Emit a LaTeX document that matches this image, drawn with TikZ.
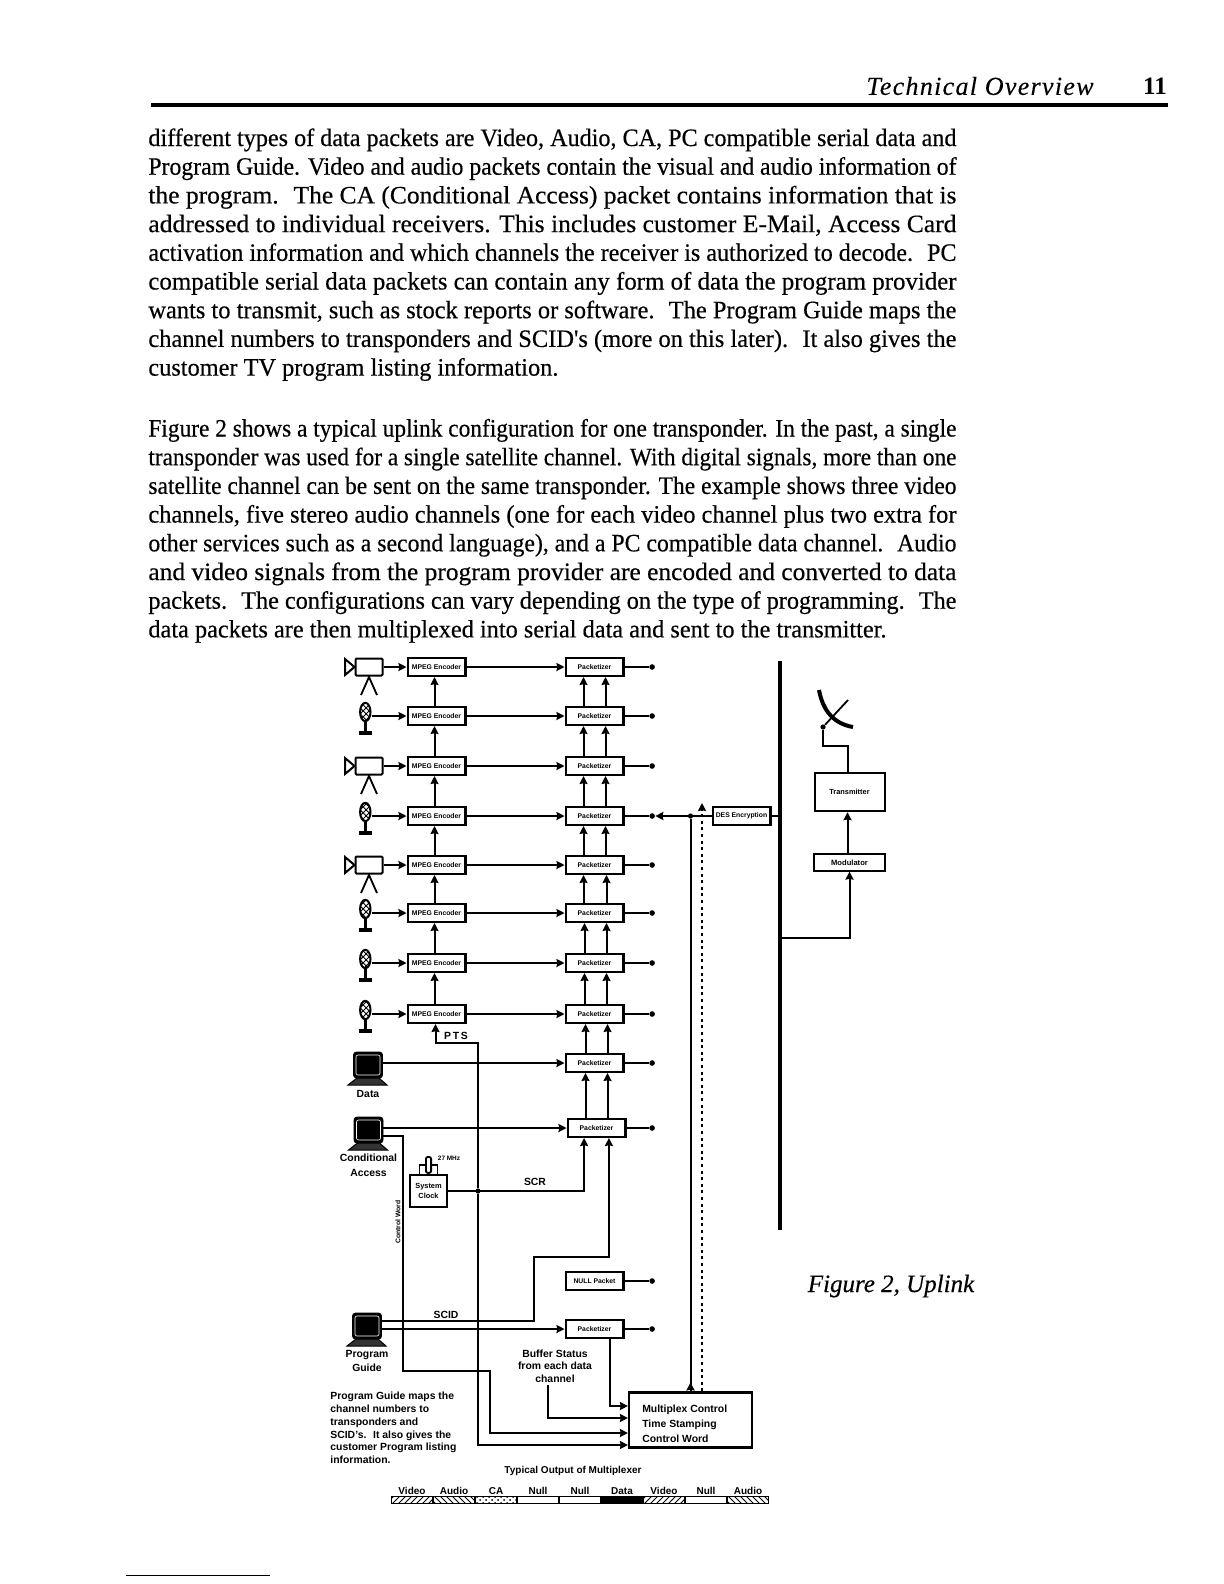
\documentclass[tikz,border=0pt]{standalone}
\usepackage{graphicx}
\usepackage{fontspec}
\setmainfont{Liberation Serif}
\setsansfont{Liberation Sans}
\newfontfamily\pagefont[FakeBold=0.4]{Liberation Serif}
\newfontfamily\headfont[FakeBold=0.2,LetterSpace=5]{Liberation Serif Italic}
\usepackage{tikz}
\usetikzlibrary{shapes.geometric, arrows.meta, positioning, calc, patterns}

\newcommand{\tinytxt}{\fontsize{3.4}{4}\selectfont\sffamily\bfseries}
\newcommand{\smalltxt}{\fontsize{5.2}{6.35}\selectfont\sffamily\bfseries}
\newcommand{\fitline}[2][404pt]{\resizebox{#1}{\height}{#2}}

\tikzset{
    camlegs/.pic={
        \draw[line width=1pt, fill=white] (-14.5,0) -- (-24,-8) -- (-24,8) -- cycle;
        \draw[line width=.9pt] (-8,28) -- (0,10) -- (8,28);
    },
    micstand/.pic={
        \draw[line width=1.2pt] (0,9) -- (0,21);
        \draw[line width=1.8pt] (-6.5,21) -- (6.5,21);
    },
    pcbase/.pic={
        \draw[white, line width=.3pt, rounded corners=1pt] (-12,-10) rectangle (12,10);
        \draw[fill=black!80, line width=.5pt] (-11,13) -- (11,13) -- (19,20) -- (-20,20) -- cycle;
    }
}

\begin{document}
\begin{tikzpicture}[x=.5pt, y=-.5pt,
    encbox/.style={draw, rectangle, line width=1.1pt, minimum width=28.9pt, minimum height=8.9pt, inner sep=0pt, text centered, font=\tinytxt, fill=white},
    pktbox/.style={encbox},
    cambody/.style={draw, rectangle, rounded corners=.5pt, line width=1pt, minimum width=13.5pt, minimum height=8.5pt},
    micbody/.style={draw, ellipse, line width=1pt, minimum width=5.2pt, minimum height=9.2pt, inner sep=0pt, pattern=crosshatch},
    pcbody/.style={draw, rectangle, rounded corners=1.5pt, fill=black, minimum width=14.5pt, minimum height=13pt, inner sep=0pt},
    dotend/.style={circle, fill=black, inner sep=0pt, minimum size=2.8pt},
    juncdot/.style={circle, fill=black, inner sep=0pt, minimum size=2.6pt},
    arrow/.style={line width=1pt,-{Stealth[length=4pt,width=4pt,inset=.4pt]}},
    wire/.style={line width=1pt},
    lbl/.style={inner sep=0pt, font=\smalltxt, align=center},
    seg/.style={draw, rectangle, line width=.6pt, minimum width=20.4pt, minimum height=3.2pt, inner sep=0pt},
    seglabel/.style={font=\fontsize{5}{5}\selectfont\sffamily\bfseries, inner sep=0pt, label distance=.4pt},
    bodytext/.style={anchor=north west, inner sep=0pt, align=left, font=\fontsize{12.5}{14.35}\selectfont\pagefont}
]
\useasboundingbox (0,0) rectangle (1224,1584);

% Page header
\node (headtitle) [font=\fontsize{13}{13}\selectfont\headfont, inner sep=0pt] at (980,86) {Technical Overview};
\node (pagenum) [font=\fontsize{12.5}{13}\selectfont\bfseries, inner sep=0pt] at (1155,86) {11};
\coordinate (ruleleft) at (151,105);
\coordinate (ruleright) at (1168,105);
\draw [line width=2pt] (ruleleft) -- (ruleright);

% Page text
\node (paraone) [bodytext] at (148,128) {%
\fitline{different types of data packets are Video, Audio, CA, PC compatible serial data and}\\
\fitline{Program Guide. Video and audio packets contain the visual and audio information of}\\
\fitline{the program. \ The CA (Conditional Access) packet contains information that is}\\
\fitline{addressed to individual receivers. This includes customer E-Mail, Access Card}\\
\fitline{activation information and which channels the receiver is authorized to decode. \ PC}\\
\fitline{compatible serial data packets can contain any form of data the program provider}\\
\fitline{wants to transmit, such as stock reports or software. \ The Program Guide maps the}\\
\fitline{channel numbers to transponders and SCID's (more on this later). \ It also gives the}\\
\fitline[205pt]{customer TV program listing information.}};
\node (paratwo) [bodytext] at (148,418.5) {%
\fitline{Figure 2 shows a typical uplink configuration for one transponder. In the past, a single}\\
\fitline{transponder was used for a single satellite channel. With digital signals, more than one}\\
\fitline{satellite channel can be sent on the same transponder. The example shows three video}\\
\fitline{channels, five stereo audio channels (one for each video channel plus two extra for}\\
\fitline{other services such as a second language), and a PC compatible data channel. \ Audio}\\
\fitline{and video signals from the program provider are encoded and converted to data}\\
\fitline{packets. \ The configurations can vary depending on the type of programming. \ The}\\
\fitline[369pt]{data packets are then multiplexed into serial data and sent to the transmitter.}};

% Encoders
\node (enca) [encbox] at (436.5,667) {MPEG Encoder};
\node (encb) [encbox, below=14.5pt of enca] {MPEG Encoder};
\node (encc) [encbox, below=15pt of encb] {MPEG Encoder};
\node (encd) [encbox, below=15pt of encc] {MPEG Encoder};
\node (ence) [encbox, below=14.5pt of encd] {MPEG Encoder};
\node (encf) [encbox, below=14pt of ence] {MPEG Encoder};
\node (encg) [encbox, below=15pt of encf] {MPEG Encoder};
\node (ench) [encbox, below=15.5pt of encg] {MPEG Encoder};

\draw [arrow] ([xshift=-1pt]encb.north) -- ([xshift=-1pt]enca.south);
\draw [arrow] ([xshift=-1pt]encc.north) -- ([xshift=-1pt]encb.south);
\draw [arrow] ([xshift=-1pt]encd.north) -- ([xshift=-1pt]encc.south);
\draw [arrow] ([xshift=-1pt]ence.north) -- ([xshift=-1pt]encd.south);
\draw [arrow] ([xshift=-1pt]encf.north) -- ([xshift=-1pt]ence.south);
\draw [arrow] ([xshift=-1pt]encg.north) -- ([xshift=-1pt]encf.south);
\draw [arrow] ([xshift=-1pt]ench.north) -- ([xshift=-1pt]encg.south);

% Cameras and microphones
\node (cama) [cambody, left=11.5pt of enca] {};
\node (micb) [micbody, left=17.5pt of encb, yshift=2pt] {};
\node (camc) [cambody, left=11.5pt of encc] {};
\node (micd) [micbody, left=17.5pt of encd, yshift=2pt] {};
\node (came) [cambody, left=11.5pt of ence] {};
\node (micf) [micbody, left=17.5pt of encf, yshift=2pt] {};
\node (micg) [micbody, left=17.5pt of encg, yshift=2pt] {};
\node (mich) [micbody, left=17.5pt of ench, yshift=2pt] {};
\pic at (cama) {camlegs};
\pic at (camc) {camlegs};
\pic at (came) {camlegs};
\pic at (micb) {micstand};
\pic at (micd) {micstand};
\pic at (micf) {micstand};
\pic at (micg) {micstand};
\pic at (mich) {micstand};

\draw [arrow] (cama) -- (enca);
\draw [arrow] ([yshift=-2pt]micb.east) -- (encb.west);
\draw [arrow] (camc) -- (encc);
\draw [arrow] ([yshift=-2pt]micd.east) -- (encd.west);
\draw [arrow] (came) -- (ence);
\draw [arrow] ([yshift=-2pt]micf.east) -- (encf.west);
\draw [arrow] ([yshift=-2pt]micg.east) -- (encg.west);
\draw [arrow] ([yshift=-2pt]mich.east) -- (ench.west);

% Packetizers
\node (pkta) [pktbox, right=49pt of enca] {Packetizer};
\node (pktb) [pktbox, right=49pt of encb] {Packetizer};
\node (pktc) [pktbox, right=49pt of encc] {Packetizer};
\node (pktd) [pktbox, right=49pt of encd] {Packetizer};
\node (pkte) [pktbox, right=49pt of ence] {Packetizer};
\node (pktf) [pktbox, right=49pt of encf] {Packetizer};
\node (pktg) [pktbox, right=49pt of encg] {Packetizer};
\node (pkth) [pktbox, right=49pt of ench] {Packetizer};
\node (pkti) [pktbox, below=14.5pt of pkth] {Packetizer};
\node (pktj) [pktbox, below=22.5pt of pkti, xshift=1pt] {Packetizer};
\node (pktk) [pktbox, below=66.5pt of pktj, xshift=-1pt] {NULL Packet};
\node (pktl) [pktbox, below=14pt of pktk] {Packetizer};

\draw [arrow] (enca) -- (pkta);
\draw [arrow] (encb) -- (pktb);
\draw [arrow] (encc) -- (pktc);
\draw [arrow] (encd) -- (pktd);
\draw [arrow] (ence) -- (pkte);
\draw [arrow] (encf) -- (pktf);
\draw [arrow] (encg) -- (pktg);
\draw [arrow] (ench) -- (pkth);

\draw [arrow] ([xshift=-5.5pt]pktb.north) -- ([xshift=-5.5pt]pkta.south);
\draw [arrow] ([xshift=5.5pt]pktb.north) -- ([xshift=5.5pt]pkta.south);
\draw [arrow] ([xshift=-5.5pt]pktc.north) -- ([xshift=-5.5pt]pktb.south);
\draw [arrow] ([xshift=5.5pt]pktc.north) -- ([xshift=5.5pt]pktb.south);
\draw [arrow] ([xshift=-5.5pt]pktd.north) -- ([xshift=-5.5pt]pktc.south);
\draw [arrow] ([xshift=5.5pt]pktd.north) -- ([xshift=5.5pt]pktc.south);
\draw [arrow] ([xshift=-5.5pt]pkte.north) -- ([xshift=-5.5pt]pktd.south);
\draw [arrow] ([xshift=5.5pt]pkte.north) -- ([xshift=5.5pt]pktd.south);
\draw [arrow] ([xshift=-5.5pt]pktf.north) -- ([xshift=-5.5pt]pkte.south);
\draw [arrow] ([xshift=6pt]pktf.north) -- ([xshift=6pt]pkte.south);
\draw [arrow] ([xshift=-5pt]pktg.north) -- ([xshift=-5pt]pktf.south);
\draw [arrow] ([xshift=6pt]pktg.north) -- ([xshift=6pt]pktf.south);
\draw [arrow] ([xshift=-5pt]pkth.north) -- ([xshift=-5pt]pktg.south);
\draw [arrow] ([xshift=6pt]pkth.north) -- ([xshift=6pt]pktg.south);
\draw [arrow] ([xshift=-4.5pt]pkti.north) -- ([xshift=-4.5pt]pkth.south);
\draw [arrow] ([xshift=6.5pt]pkti.north) -- ([xshift=6.5pt]pkth.south);
\draw [arrow] ([xshift=-5.5pt]pktj.north) -- ([xshift=-5.5pt]pktj.north |- pkti.south);
\draw [arrow] ([xshift=5.5pt]pktj.north) -- ([xshift=5.5pt]pktj.north |- pkti.south);

% Packetizer outputs
\node (dota) [dotend, right=12.2pt of pkta] {};
\node (dotb) [dotend, right=12.2pt of pktb] {};
\node (dotc) [dotend, right=12.2pt of pktc] {};
\node (dotd) [dotend, right=12.2pt of pktd] {};
\node (dote) [dotend, right=12.2pt of pkte] {};
\node (dotf) [dotend, right=12.2pt of pktf] {};
\node (dotg) [dotend, right=12.2pt of pktg] {};
\node (doth) [dotend, right=12.2pt of pkth] {};
\node (doti) [dotend, right=12.2pt of pkti] {};
\node (dotj) [dotend, right=11.2pt of pktj] {};
\node (dotk) [dotend, right=12.2pt of pktk] {};
\node (dotl) [dotend, right=12.2pt of pktl] {};
\draw [wire] (pkta) -- (dota);
\draw [wire] (pktb) -- (dotb);
\draw [wire] (pktc) -- (dotc);
\draw [wire] (pktd) -- (dotd);
\draw [wire] (pkte) -- (dote);
\draw [wire] (pktf) -- (dotf);
\draw [wire] (pktg) -- (dotg);
\draw [wire] (pkth) -- (doth);
\draw [wire] (pkti) -- (doti);
\draw [wire] (pktj) -- (dotj);
\draw [wire] (pktk) -- (dotk);
\draw [wire] (pktl) -- (dotl);

% Computers
\node (datapc) [pcbody] at (368,1065) {};
\node (capc) [pcbody] at (368.5,1130) {};
\node (guidepc) [pcbody] at (367,1326) {};
\pic at (datapc) {pcbase};
\pic at (capc) {pcbase};
\pic at (guidepc) {pcbase};
\node (datalbl) [lbl, below=6pt of datapc] {Data};
\node (calbl) [lbl, below=5pt of capc] {Conditional\\[1pt]Access};
\node (guidelbl) [lbl, below=5.5pt of guidepc] {Program\\[.6pt]Guide};

\draw [arrow] (datapc.east |- pkti) -- (pkti);
\draw [arrow] (capc.east |- pktj) -- (pktj);
\draw [arrow] (guidepc.east |- pktl) -- (pktl);

% Multiplexer and its inputs
\node (mux) [draw, rectangle, line width=1.1pt, minimum width=61.5pt, minimum height=27.5pt] at (690.5,1420) {};
\node (muxtxt) [lbl, anchor=west, align=left, xshift=7pt, yshift=-2pt] at (mux.west) {Multiplex Control\\[1.2pt]Time Stamping\\[1.2pt]Control Word};
\node (bufstat) [lbl] at (555,1366) {Buffer Status\\from each data\\channel};
\node (guidenote) [lbl, anchor=north west, align=left] at (330,1392) {Program Guide maps the\\channel numbers to\\transponders and\\SCID's. \ It also gives the\\customer Program listing\\information.};

\draw [arrow] ([xshift=7.7pt]pktl.south) |- ([yshift=7pt]mux.west);
\draw [arrow] ([xshift=-3.5pt]bufstat.south) ++(0,2) |- ([yshift=1pt]mux.west);

% Control word
\coordinate (cwbend) at (403,1371);
\coordinate (cwturn) at (490,1371);
\draw [arrow] ([yshift=-3pt]capc.east) -| (cwbend) -- (cwturn) |- ([yshift=-6.5pt]mux.west);
\node (cwlbl) [font=\tinytxt, rotate=90, inner sep=0pt] at (398,1222) {Control Word};

% System clock
\node (sysclk) [draw, rectangle, line width=1pt, minimum width=18.6pt, minimum height=16.2pt, inner sep=0pt, align=center, font=\fontsize{3.7}{5}\selectfont\sffamily\bfseries] at (428.5,1191) {System\\Clock};
\node (crystal) [draw, rectangle, rounded corners=1pt, line width=.9pt, minimum width=2.6pt, minimum height=8pt, inner sep=0pt, above=0pt of sysclk, xshift=0pt] {};
\draw [line width=.9pt] ([xshift=-4.5pt]sysclk.north) |- (crystal.west);
\draw [line width=.9pt] ([xshift=4.5pt]sysclk.north) |- (crystal.east);
\node (mhzlbl) [font=\fontsize{3.2}{4}\selectfont\sffamily\bfseries, inner sep=0pt] at (449,1158) {27 MHz};

% PTS and SCR
\coordinate (ptstop) at (478,1043);
\node (busjoin) [juncdot] at (sysclk.east -| ptstop) {};
\draw [arrow] (busjoin) -- (ptstop) -| ([xshift=-.5pt]ench.south);
\draw [arrow] (busjoin) |- ([yshift=-12.5pt]mux.west);
\draw [arrow] (sysclk.east) -| ([xshift=-6.2pt]pktj.south);
\node (ptslbl) [lbl, font=\fontsize{5.2}{6}\selectfont\sffamily\bfseries] at (456,1036) {P\,T\,S};
\node (scrlbl) [lbl] at (535,1182) {SCR};

% SCID
\coordinate (scidbend) at (534,1257);
\draw [arrow] ([yshift=2.5pt]guidepc.east) -| (scidbend) -| ([xshift=6.2pt]pktj.south);
\node (scidlbl) [lbl] at (446,1315) {SCID};

% Encryption and the lines to the multiplexer
\node (des) [encbox, right=43.5pt of pktd] {DES Encryption};
\coordinate (bartop) at (780,661);
\coordinate (barbot) at (780,1230);
\draw [line width=2.3pt] (bartop) -- (barbot);
\draw [wire] (des.east) -- (des.east -| bartop);
\draw [arrow] (des.west) -- (dotd.east);
\node (muxjoin) [juncdot] at (des.west -| mux.north) {};
\draw [wire] (muxjoin) -- (mux.north);
\draw [arrow] (mux.north) -- ++(0,-9);
\coordinate (dottop) at ($(mux.north |- des.west)+(11.5,-13)$);
\draw [arrow, line width=1.4pt, dash pattern=on 1.5pt off 1.8pt] ([xshift=5.75pt]mux.north) -- (dottop);

% Transmit chain
\node (xmit) [draw, rectangle, line width=1pt, minimum width=35pt, minimum height=19.2pt, inner sep=0pt, font=\fontsize{3.7}{5}\selectfont\sffamily\bfseries] at (849.5,792) {Transmitter};
\node (modu) [draw, rectangle, line width=1pt, minimum width=35.6pt, minimum height=8.2pt, inner sep=0pt, font=\fontsize{3.8}{5}\selectfont\sffamily\bfseries, below=20.5pt of xmit] {Modulator};
\coordinate (modtap) at (780,938);
\draw [arrow] (modtap) -| (modu.south);
\draw [arrow] ([xshift=-1pt]modu.north) -- ([xshift=-1pt]xmit.south);

% Dish
\coordinate (dishtop) at (819,690);
\coordinate (dishend) at (853,727);
\coordinate (feedtip) at (848,700);
\node (feedbase) [juncdot] at (823,727) {};
\coordinate (feedbend) at (822,746);
\draw [line width=2pt] (dishtop) .. controls (823,712) and (835,724) .. (dishend);
\draw [line width=.9pt] (feedtip) -- (feedbase);
\draw [wire] (feedbase) |- (feedbend) -| ([xshift=-1pt]xmit.north);

% Multiplexer output
\node (outtitle) [lbl, font=\fontsize{5}{6}\selectfont\sffamily\bfseries] at (573,1471) {Typical Output of Multiplexer};
\node (sega) [seg, pattern=north east lines, label={[seglabel]above:Video}] at (412,1500) {};
\node (segb) [seg, pattern=north west lines, right=0pt of sega, label={[seglabel]above:Audio}] {};
\node (segc) [seg, pattern=crosshatch dots, right=0pt of segb, label={[seglabel]above:CA}] {};
\node (segd) [seg, right=0pt of segc, label={[seglabel]above:Null}] {};
\node (sege) [seg, right=0pt of segd, label={[seglabel]above:Null}] {};
\node (segf) [seg, fill=black, right=0pt of sege, label={[seglabel]above:Data}] {};
\node (segg) [seg, pattern=north east lines, right=0pt of segf, label={[seglabel]above:Video}] {};
\node (segh) [seg, right=0pt of segg, label={[seglabel]above:Null}] {};
\node (segi) [seg, pattern=north west lines, right=0pt of segh, label={[seglabel]above:Audio}] {};

% Caption and foot rule
\node (figcap) [font=\fontsize{12.5}{13}\selectfont\pagefont\itshape, inner sep=0pt] at (891,1286) {Figure 2, Uplink};
\coordinate (footleft) at (126,1575);
\coordinate (footright) at (270,1575);
\draw [line width=.5pt] (footleft) -- (footright);

\end{tikzpicture}
\end{document}
